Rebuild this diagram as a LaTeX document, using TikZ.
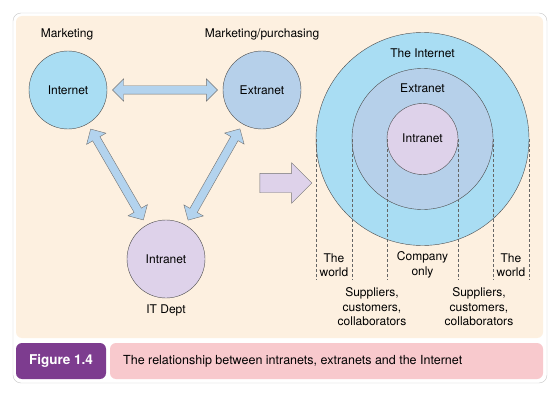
\documentclass[tikz,border=0pt]{standalone}
\usepackage{fontspec}
\setmainfont{TeX Gyre Heros}
\usetikzlibrary{shapes.arrows}
\definecolor{paper}{HTML}{FDF0E0}
\definecolor{framegray}{HTML}{C8C8C8}
\definecolor{webblue}{HTML}{A9DDF3}
\definecolor{extblue}{HTML}{B6D0EA}
\definecolor{intralilac}{HTML}{DED2EA}
\definecolor{arrowblue}{HTML}{B3D3EE}
\definecolor{figpurple}{HTML}{7D3C8F}
\definecolor{figpink}{HTML}{F8C9CD}
\begin{document}
\begin{tikzpicture}[x=1pt,y=1pt,font=\fontsize{12}{14.5}\selectfont]
        \tikzstyle{net}=[circle,thin,draw=black!70,minimum size=78pt,inner sep=0pt]
        \tikzstyle{ring}=[circle,thin,draw=black!70,inner sep=0pt]
        \tikzstyle{link}=[double arrow,draw=black!55,fill=arrowblue,inner xsep=0pt,inner ysep=4pt,double arrow head extend=7pt,minimum height=105pt]
        \tikzstyle{guide}=[draw=black!60,thin,dash pattern=on 3pt off 2pt]
        \tikzstyle{caption}=[rectangle,rounded corners=6pt,minimum height=36pt,inner sep=0pt]
        \tikzstyle{label}=[inner sep=0pt,align=center]
       % page and frame
       \useasboundingbox (0,0) rectangle (555,400);
       \fill[white] (0,0) rectangle (555,400);
       \draw[framegray,fill=white,rounded corners=8pt] (13,17) rectangle (547,387);
       \fill[paper,rounded corners=6pt] (16,62) rectangle (543,384);
       \begin{scope}
         \node [net,fill=webblue] (web) at (68,310) {Internet};
         \node [net,fill=extblue] (ext) at (262,310) {Extranet};
         \node [net,fill=intralilac] (intra) at (166,141) {Intranet};
         \node [label] (mkt) at (67,366) {Marketing};
         \node [label] (mktp) at (262,366) {Marketing/purchasing};
         \node [label] (itdept) at (166,90) {IT Dept};
         \path (web) -- node[link,sloped] {} (ext);
         \path (web) -- node[link,sloped] {} (intra);
         \path (ext) -- node[link,sloped] {} (intra);
       \end{scope}
       \node [single arrow,draw=black!55,fill=intralilac,inner xsep=0pt,inner ysep=9.5pt,minimum height=52pt,single arrow head extend=10.5pt] (move) at (281,217) {};
       \begin{scope}
         \node [ring,fill=webblue,minimum size=213pt] (world) at (422.5,261) {};
         \node [ring,fill=extblue,minimum size=141pt] (partners) at (422.5,261) {};
         \node [ring,fill=intralilac,minimum size=71pt] (company) at (422.5,261) {};
         \node [label] (lworld) at (422.5,347) {The Internet};
         \node [label] (lpartners) at (422.5,312) {Extranet};
         \node [label] (lcompany) at (422.5,262) {Intranet};
         \coordinate (base) at (422.5,120);
         \draw[guide] (world.west) -- (world.west |- base);
         \draw[guide] (partners.west) -- (partners.west |- base);
         \draw[guide] (company.west) -- (company.west |- base);
         \draw[guide] (company.east) -- (company.east |- base);
         \draw[guide] (partners.east) -- (partners.east |- base);
         \draw[guide] (world.east) -- (world.east |- base);
         \node [label] (tw1) at (334,135) {The\\world};
         \node [label] (only) at (422.5,135) {Company\\only};
         \node [label] (tw2) at (511,135) {The\\world};
         \node [label] (sup1) at (372,93) {Suppliers,\\customers,\\collaborators};
         \node [label] (sup2) at (479,93) {Suppliers,\\customers,\\collaborators};
       \end{scope}
       % caption
       \node [caption,fill=figpurple,minimum width=90pt,text=white,font=\fontsize{13.5}{15}\selectfont\bfseries] (fig) at (61,39) {Figure 1.4};
       \node [caption,fill=figpink,minimum width=433pt] (capbox) at (326.5,39) {};
       \node [label,anchor=west,font=\fontsize{12.5}{15}\selectfont] (captext) at (123,39) {The relationship between intranets, extranets and the Internet};
      \end{tikzpicture}
\end{document}
